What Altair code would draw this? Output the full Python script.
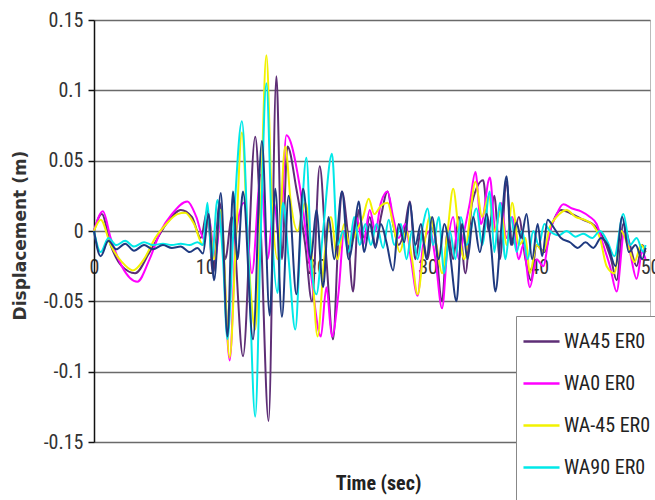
import altair as alt
import pandas as pd

series_names = ["WA45 ER0", "WA0 ER0", "WA-45 ER0", "WA90 ER0", "ER0"]
series_colors = ["#5e2e76", "#ff00ff", "#f2f200", "#00e8e8", "#1f3a80"]

x_ticks = [0, 10, 20, 30, 40, 50]
y_ticks = [-0.15, -0.1, -0.05, 0, 0.05, 0.1, 0.15]

# (time s, displacement m)
wa45 = [(0, 0.0), (0.7, 0.012), (1.5, -0.01), (2.5, -0.025), (3.7, -0.03), (5.0, -0.015),
        (6.5, 0.005), (7.8, 0.015), (8.8, 0.01), (9.6, -0.005), (10.2, 0.015), (10.7, -0.03),
        (11.3, 0.02), (11.8, -0.02), (12.4, 0.01), (13.4, -0.089), (14.5, 0.067), (15.0, 0.0),
        (15.7, -0.135), (16.4, 0.11), (16.9, -0.02), (17.4, 0.06), (18.2, 0.03), (19.0, -0.01),
        (19.6, -0.05), (20.3, 0.046), (20.9, -0.02), (21.5, -0.077), (22.0, 0.0), (22.3, 0.028),
        (22.8, 0.0), (23.3, -0.043), (23.8, 0.015), (24.3, -0.005), (24.8, 0.01), (25.3, -0.01),
        (25.8, 0.01), (26.4, 0.028), (26.9, 0.005), (27.4, -0.01), (27.9, 0.0), (28.4, 0.021),
        (28.9, -0.02), (29.4, 0.0), (30.0, -0.02), (30.5, 0.005), (31.3, -0.05), (31.8, 0.0),
        (32.3, -0.02), (32.8, 0.01), (33.4, -0.03), (34.0, 0.02), (35.0, 0.036), (35.5, 0.0),
        (36.0, 0.025), (36.5, -0.02), (37.1, 0.035), (37.6, -0.01), (38.2, 0.01), (38.8, -0.02),
        (39.3, -0.035), (39.8, -0.01), (40.5, -0.015), (41.2, 0.005), (42.0, 0.015), (43.0, 0.012),
        (44.0, 0.008), (45.0, 0.004), (45.8, -0.005), (46.5, -0.02), (47.0, -0.035), (47.6, 0.005),
        (48.2, -0.01), (48.8, -0.025), (49.3, -0.01), (49.6, -0.015)]

wa0 = [(0, 0.0), (0.8, 0.014), (1.5, -0.005), (2.5, -0.025), (3.9, -0.036), (5.0, -0.02),
       (6.0, 0.0), (7.0, 0.012), (8.4, 0.021), (9.2, 0.01), (9.9, -0.006), (10.3, 0.01),
       (10.9, -0.02), (11.4, 0.01), (12.2, -0.092), (12.8, 0.0), (13.5, 0.02), (14.2, -0.03),
       (15.0, 0.04), (15.6, -0.02), (16.2, 0.02), (16.7, -0.01), (17.3, 0.068), (18.5, 0.032),
       (19.5, -0.03), (20.4, -0.075), (20.9, -0.04), (21.4, -0.075), (22.0, -0.043), (22.5, 0.0),
       (23.0, -0.01), (23.6, 0.01), (24.2, -0.01), (24.8, 0.015), (25.3, 0.0), (25.8, 0.02),
       (26.4, 0.028), (26.9, 0.01), (27.4, -0.005), (28.0, 0.005), (28.5, -0.02), (29.1, -0.046),
       (29.6, -0.01), (30.2, 0.0), (30.7, -0.02), (31.3, -0.055), (31.8, -0.01), (32.3, 0.01),
       (32.8, -0.02), (33.3, 0.0), (33.8, 0.02), (34.3, 0.042), (34.8, 0.005), (35.6, 0.038),
       (36.1, 0.0), (36.6, 0.02), (37.1, -0.005), (37.6, 0.01), (38.2, -0.02), (38.6, -0.01),
       (39.2, -0.04), (39.8, -0.02), (40.4, -0.025), (41.0, 0.0), (41.5, 0.01), (42.2, 0.019),
       (43.0, 0.016), (43.8, 0.014), (44.6, 0.01), (45.2, 0.005), (45.8, -0.01), (46.4, -0.025),
       (47.0, -0.043), (47.7, 0.0), (48.2, -0.015), (48.8, -0.034), (49.3, -0.015), (49.6, -0.02)]

wam45 = [(0, 0.0), (0.6, 0.008), (1.5, -0.01), (2.5, -0.022), (3.5, -0.028), (4.5, -0.02),
         (5.5, -0.005), (6.5, 0.005), (7.5, 0.012), (8.2, 0.013), (9.0, 0.005), (9.8, -0.01),
         (10.3, 0.01), (10.8, -0.02), (11.4, 0.015), (12.2, -0.09), (12.8, 0.0), (13.3, 0.07),
         (13.9, -0.02), (14.5, -0.07), (15.0, 0.02), (15.5, 0.125), (16.0, 0.02), (16.5, -0.02),
         (17.2, 0.06), (17.7, 0.02), (18.3, 0.0), (19.0, 0.02), (19.5, -0.01), (20.1, -0.075),
         (20.7, -0.02), (21.3, 0.01), (21.9, -0.02), (22.5, 0.005), (23.0, -0.01), (23.6, 0.0),
         (24.2, 0.01), (24.7, 0.023), (25.2, 0.012), (25.8, 0.018), (26.4, 0.02), (26.9, 0.005),
         (27.5, -0.015), (28.1, 0.0), (28.6, -0.02), (29.1, -0.045), (29.7, -0.01), (30.2, 0.01),
         (30.8, -0.01), (31.3, -0.03), (31.8, 0.0), (32.3, 0.03), (32.8, 0.0), (33.3, -0.02),
         (33.8, 0.01), (34.3, 0.035), (34.9, 0.01), (35.5, 0.025), (36.0, 0.0), (36.6, 0.015),
         (37.1, -0.01), (37.6, 0.02), (38.2, -0.01), (38.8, -0.005), (39.2, -0.03), (39.8, -0.01),
         (40.4, -0.015), (41.0, 0.003), (41.6, 0.01), (42.5, 0.015), (43.3, 0.01), (44.1, 0.008),
         (44.9, 0.004), (45.5, -0.005), (46.1, -0.025), (46.8, -0.03), (47.4, 0.0), (48.0, -0.01),
         (48.6, -0.022), (49.2, -0.01), (49.6, -0.015)]

wa90 = [(0, 0.0), (0.6, -0.015), (1.3, -0.005), (2.0, -0.01), (2.8, -0.007), (3.6, -0.011),
        (4.5, -0.008), (5.3, -0.01), (6.2, -0.009), (7.0, -0.01), (7.8, -0.009), (8.6, -0.01),
        (9.3, -0.008), (9.8, -0.01), (10.2, 0.02), (10.6, -0.02), (11.1, 0.022), (11.6, -0.02),
        (12.0, -0.077), (12.6, 0.01), (13.3, 0.078), (13.9, -0.02), (14.5, -0.132), (15.0, 0.0),
        (15.5, 0.105), (16.0, 0.0), (16.5, -0.044), (17.0, 0.02), (17.5, -0.02), (18.1, -0.07),
        (18.6, 0.0), (19.1, 0.052), (19.6, -0.03), (20.0, -0.045), (20.6, 0.0), (21.4, 0.055),
        (21.9, -0.01), (22.4, 0.0), (22.9, -0.015), (23.4, 0.01), (23.9, -0.01), (24.4, 0.005),
        (24.9, -0.01), (25.4, 0.005), (26.0, -0.012), (26.5, 0.008), (27.0, -0.01), (27.6, 0.005),
        (28.1, -0.02), (28.6, 0.0), (29.1, -0.02), (29.6, 0.005), (30.0, 0.016), (30.5, -0.01),
        (31.0, 0.01), (31.5, -0.03), (32.0, 0.0), (32.5, -0.02), (33.0, 0.01), (33.5, -0.01),
        (34.4, 0.016), (34.9, -0.01), (35.6, 0.028), (36.0, -0.015), (36.5, 0.02), (37.0, -0.02),
        (37.5, 0.01), (38.0, -0.015), (38.5, 0.0), (39.0, -0.02), (39.5, 0.0), (40.0, -0.01),
        (40.5, 0.005), (41.0, 0.0), (41.8, -0.003), (42.5, 0.0), (43.3, -0.004), (44.0, -0.002),
        (44.8, -0.005), (45.5, 0.0), (46.2, -0.008), (46.8, -0.018), (47.6, 0.012), (48.2, -0.01),
        (48.8, -0.005), (49.4, -0.015), (49.6, -0.01)]

er0 = [(0, 0.0), (0.6, -0.018), (1.3, -0.007), (2.0, -0.013), (2.8, -0.009), (3.6, -0.014),
       (4.5, -0.010), (5.3, -0.013), (6.2, -0.010), (7.0, -0.012), (7.8, -0.011), (8.6, -0.015),
       (9.3, -0.012), (9.8, -0.016), (10.3, 0.012), (10.8, -0.035), (11.4, 0.027), (12.0, -0.075),
       (12.5, 0.028), (12.9, -0.02), (13.4, 0.028), (14.3, -0.077), (15.1, 0.064), (15.8, -0.06),
       (16.3, 0.03), (16.9, -0.061), (17.5, 0.025), (18.2, -0.045), (18.8, 0.03), (19.5, -0.02),
       (20.0, 0.015), (20.6, -0.04), (21.1, 0.01), (21.6, -0.02), (22.3, 0.028), (22.9, -0.02),
       (23.4, 0.0), (23.8, 0.021), (24.3, -0.015), (24.8, 0.005), (25.3, -0.012), (25.8, 0.005),
       (26.3, -0.008), (26.9, -0.028), (27.4, 0.005), (27.9, -0.008), (28.4, 0.02), (28.9, -0.01),
       (29.4, 0.005), (29.9, -0.02), (30.4, 0.01), (31.0, -0.02), (31.5, 0.005), (32.0, -0.015),
       (32.6, -0.05), (33.1, 0.005), (33.6, -0.02), (34.1, 0.01), (34.7, -0.015), (35.3, 0.012),
       (35.7, -0.01), (36.1, -0.043), (36.6, 0.0), (37.1, 0.039), (37.5, -0.01), (38.0, 0.006),
       (38.4, -0.005), (38.9, 0.012), (39.4, -0.02), (39.9, 0.005), (40.3, -0.018), (40.8, 0.008),
       (41.3, 0.003), (42.0, -0.005), (42.8, -0.008), (43.5, -0.012), (44.2, -0.008), (44.9, -0.012),
       (45.6, -0.005), (46.2, -0.01), (46.9, -0.025), (47.5, 0.01), (48.1, -0.015), (48.7, -0.01),
       (49.3, -0.02), (49.6, -0.012)]

rows = []
for name, pts in zip(series_names, [wa45, wa0, wam45, wa90, er0]):
    for t, v in pts:
        rows.append({"series": name, "t": t, "v": v})
df = pd.DataFrame(rows)

NARROW = "Liberation Sans Narrow, Arial Narrow, Roboto Condensed, DejaVu Sans Condensed, sans-serif"

W, H = 556, 422

lines = alt.Chart(df).mark_line(interpolate="monotone", strokeWidth=2).encode(
    x=alt.X("t:Q",
            scale=alt.Scale(domain=[0, 50], nice=False, zero=False),
            axis=alt.Axis(values=x_ticks, offset=-H / 2, domain=False, ticks=False, tickSize=0,
                          grid=False, labelPadding=26, labelFont=NARROW, labelFontSize=20,
                          labelColor="#333", labelFlush=False, labelOverlap=False,
                          title="Time (sec)", titleFont=NARROW, titleFontSize=20,
                          titleFontWeight="bold", titleColor="#222",
                          titleX=284, titleY=252, titleAlign="center", titleBaseline="middle")),
    y=alt.Y("v:Q",
            scale=alt.Scale(domain=[-0.15, 0.15], nice=False),
            axis=alt.Axis(values=y_ticks,
                          labelExpr="'' + (round(datum.value * 100) / 100)",
                          grid=True, gridColor="#6a6a6a", gridWidth=1.5,
                          domainColor="#111", domainWidth=1.5, tickColor="#111", tickSize=6,
                          tickWidth=1.5, labelPadding=5, labelFont=NARROW, labelFontSize=20,
                          labelColor="#333", labelFlush=False, labelOverlap=False,
                          title="Displacement (m)", titleFont="DejaVu Sans", titleFontSize=17,
                          titleFontWeight="bold", titleColor="#333", titleAngle=270,
                          titleX=-74, titleY=215, titleAlign="center", titleBaseline="middle")),
    color=alt.Color("series:N",
                    scale=alt.Scale(domain=series_names, range=series_colors),
                    legend=alt.Legend(orient="none", legendX=422, legendY=296, title=None,
                                      symbolType="stroke", symbolStrokeWidth=2.5,
                                      symbolSize=1300, labelFont=NARROW, labelFontSize=20,
                                      labelColor="#222", labelOffset=3, rowPadding=12,
                                      strokeColor="#888", fillColor="white", padding=6,
                                      labelLimit=300)),
)

chart = lines.properties(
    width=W, height=H,
    autosize=alt.AutoSizeParams(type="none"),
    padding={"left": 94, "top": 20, "right": 5, "bottom": 58},
    background="white",
).configure_view(stroke="#bbbbbb", strokeWidth=1)

chart.save("out.html", embed_options={"renderer": "svg", "actions": False})
